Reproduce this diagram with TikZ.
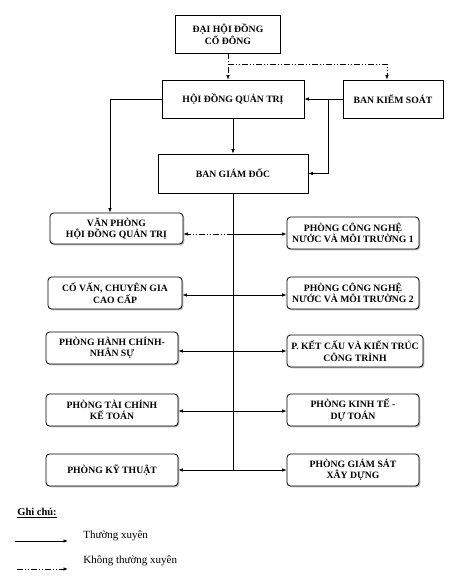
\documentclass[tikz,border=0pt]{standalone}
\usepackage{fontspec}
\setmainfont{Liberation Serif}
\usetikzlibrary{arrows.meta,shadows}

\tikzset{
  bigbox/.style={draw, line width=0.7pt, align=center, inner sep=1pt,
    font=\bfseries\fontsize{9.7}{11.5}\selectfont},
  deptbox/.style={draw, line width=0.8pt, rounded corners=3.5pt, fill=white, align=center,
    inner sep=0.5pt, minimum height=32pt,
    drop shadow={shadow xshift=1.3pt, shadow yshift=-1.3pt, fill=gray!55, opacity=1},
    font=\bfseries\fontsize{9.7}{11.5}\selectfont},
  dashdot/.style={dash pattern=on 6pt off 2pt on 1pt off 2pt on 1pt off 2pt},
}

\begin{document}
\begin{tikzpicture}[x=1pt, y=-1pt, >={Latex[length=4.5pt,width=3.5pt]}, line width=0.7pt]
        \useasboundingbox (0,0) rectangle (458,584);

        % top of the chart
        \node[bigbox, minimum width=105pt, minimum height=38pt] (dh) at (228,34) {ĐẠI HỘI ĐỒNG\\CỔ ĐÔNG};
        \node[bigbox, minimum width=142pt, minimum height=38pt] (hdqt) at (233,99) {HỘI ĐỒNG QUẢN TRỊ};
        \node[bigbox, minimum width=100pt, minimum height=38pt] (bks) at (393,99) {BAN KIỂM SOÁT};
        \node[bigbox, minimum width=150pt, minimum height=39pt] (bgd) at (233,173.5) {BAN GIÁM ĐỐC};

        % left column
        \node[deptbox, minimum width=133pt, minimum height=31pt] (vp) at (116.5,228.5) {VĂN PHÒNG\\HỘI ĐỒNG QUẢN TRỊ};
        \node[deptbox, minimum width=134pt] (cv) at (115,293) {CỐ VẤN, CHUYÊN GIA\\CAO CẤP};
        \node[deptbox, minimum width=132pt] (hc) at (112,348) {PHÒNG HÀNH CHÍNH-\\NHÂN SỰ};
        \node[deptbox, minimum width=132pt] (tc) at (112,410) {PHÒNG TÀI CHÍNH\\KẾ TOÁN};
        \node[deptbox, minimum width=132pt] (kt) at (112,470) {PHÒNG KỸ THUẬT};

        % right column
        \node[deptbox, minimum width=132pt] (cn1) at (353,233) {PHÒNG CÔNG NGHỆ\\NƯỚC VÀ MÔI TRƯỜNG 1};
        \node[deptbox, minimum width=132pt] (cn2) at (353,293) {PHÒNG CÔNG NGHỆ\\NƯỚC VÀ MÔI TRƯỜNG 2};
        \node[deptbox, minimum width=136pt] (kc) at (355,351) {P. KẾT CẤU VÀ KIẾN TRÚC\\CÔNG TRÌNH};
        \node[deptbox, minimum width=132pt] (kte) at (353,410) {PHÒNG KINH TẾ -\\DỰ TOÁN};
        \node[deptbox, minimum width=132pt] (gs) at (353,470) {PHÒNG GIÁM SÁT\\XÂY DỰNG};

        % points on the lines
        \coordinate (dj) at (228,64);
        \coordinate (br) at (328,99);
        \coordinate (r1) at (233,234);
        \coordinate (r2) at (233,295);
        \coordinate (r3) at (233,351);
        \coordinate (r4) at (233,411);
        \coordinate (r5) at (233,470);

        \begin{scope}[every path/.style={->}]
        \draw[dashdot] (dh.south) -- (dh.south |- hdqt.north);
        \draw[dashdot] (dj) -| ([xshift=-6pt]bks.north);
        \draw (hdqt.south) -- (bgd.north);
        \draw (bks.west) -- (hdqt.east);
        \draw (br) |- (bgd.east);
        \draw (hdqt.west) -| ([xshift=-6.5pt]vp.north);

        \draw[dashdot] (r1) -- (vp.east |- r1);
        \draw (r1) -- (cn1.west |- r1);
        \draw (r2) -- (cv.east |- r2);
        \draw (r2) -- (cn2.west |- r2);
        \draw (r3) -- (hc.east |- r3);
        \draw (r3) -- (kc.west |- r3);
        \draw (r4) -- (tc.east |- r4);
        \draw (r4) -- (kte.west |- r4);
        \draw (r5) -- (kt.east |- r5);
        \draw (r5) -- (gs.west |- r5);
        \end{scope}
        \draw (bgd.south) -- (r5);

        % legend
        \node[anchor=west, inner sep=0pt, font=\bfseries\fontsize{10.5}{12}\selectfont] (gc) at (17,513) {\underline{Ghi chú:}};
        \coordinate (l1) at (15,541);
        \coordinate (l1e) at (68,541);
        \coordinate (l2) at (17,569);
        \coordinate (l2e) at (68,569);
        \draw[->] (l1) -- (l1e);
        \draw[->, dashdot] (l2) -- (l2e);
        \node[anchor=west, inner sep=0pt, font=\fontsize{11}{12}\selectfont] (tx) at (83,536) {Thường xuyên};
        \node[anchor=west, inner sep=0pt, font=\fontsize{11}{12}\selectfont] (ktx) at (83,561) {Không thường xuyên};
\end{tikzpicture}
\end{document}
